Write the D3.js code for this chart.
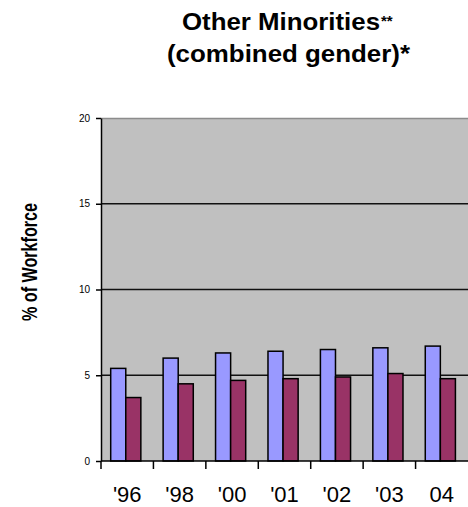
<!DOCTYPE html>
<html>
<head>
<meta charset="utf-8">
<script src="https://cdn.jsdelivr.net/npm/d3@7"></script>
<style>
  html, body { margin: 0; padding: 0; background: #fff; }
  svg { display: block; }
</style>
</head>
<body>
<svg width="468" height="507"></svg>
<script>
const years = ["'96", "'98", "'00", "'01", "'02", "'03", "04"];
const seriesA = [5.4, 6.0, 6.3, 6.4, 6.5, 6.6, 6.7];
const seriesB = [3.7, 4.5, 4.7, 4.8, 4.9, 5.1, 4.8];
const yTicks = [0, 5, 10, 15, 20];

const svg = d3.select('svg');
const margin = { left: 101, right: 0, top: 118, bottom: 45 };
const width = 468 - margin.left - margin.right;
const height = 507 - margin.top - margin.bottom - 1;
const font = 'Arial, "Liberation Sans", sans-serif';

const data = years.map((yr, i) => ({ yr, a: seriesA[i], b: seriesB[i] }));

const x = d3.scaleBand().domain(years).range([0, width]);
const bw = x.bandwidth();
const x1 = d3.scaleBand().domain(['a', 'b']).range([bw * 0.185, bw * 0.76]);
const y = d3.scaleLinear().domain([0, 20]).range([height, 0]);

const g = svg.append('g').attr('transform', `translate(${margin.left},${margin.top})`);

// plot area
g.append('rect')
  .attr('x', 0).attr('y', 0)
  .attr('width', width + 2).attr('height', height)
  .attr('fill', '#c0c0c0');
g.append('line')
  .attr('x1', 0).attr('x2', width + 2)
  .attr('y1', 0.5).attr('y2', 0.5)
  .attr('stroke', '#8c8c8c').attr('stroke-width', 1.5);

// gridlines
g.selectAll('.grid').data(yTicks.filter(d => d > 0 && d < 20)).enter()
  .append('line')
  .attr('x1', 0).attr('x2', width + 2)
  .attr('y1', d => y(d)).attr('y2', d => y(d))
  .attr('stroke', '#111').attr('stroke-width', 1.5);

// bars
const groups = g.selectAll('.grp').data(data).enter()
  .append('g').attr('transform', d => `translate(${x(d.yr)},0)`);

groups.append('rect')
  .attr('x', x1('a')).attr('width', x1.bandwidth())
  .attr('y', d => y(d.a)).attr('height', d => y(0) - y(d.a))
  .attr('fill', '#9999ff').attr('stroke', '#000').attr('stroke-width', 1.5);

groups.append('rect')
  .attr('x', x1('b')).attr('width', x1.bandwidth())
  .attr('y', d => y(d.b)).attr('height', d => y(0) - y(d.b))
  .attr('fill', '#993366').attr('stroke', '#000').attr('stroke-width', 1.5);

// axes
const yAxis = d3.axisLeft(y).tickValues(yTicks).tickSize(5).tickSizeOuter(0);
const yg = g.append('g').call(yAxis);
yg.select('.domain').attr('stroke', '#000').attr('stroke-width', 1.5);
yg.selectAll('.tick line').attr('stroke', '#000').attr('stroke-width', 1.5);
yg.selectAll('.tick text')
  .attr('x', -11)
  .style('font-family', font)
  .style('font-size', '10px')
  .attr('fill', '#000');

const xg = g.append('g').attr('transform', `translate(0,${height})`);
xg.append('line')
  .attr('x1', 0).attr('x2', width + 2)
  .attr('y1', 0).attr('y2', 0)
  .attr('stroke', '#000').attr('stroke-width', 1.5);
xg.selectAll('.xt').data(years).enter()
  .append('line')
  .attr('x1', d => x(d)).attr('x2', d => x(d))
  .attr('y1', 0).attr('y2', 8)
  .attr('stroke', '#000').attr('stroke-width', 1.5);
xg.selectAll('.xl').data(years).enter()
  .append('text')
  .attr('x', d => x(d) + bw / 2)
  .attr('y', 41)
  .attr('text-anchor', 'middle')
  .style('font-family', font)
  .style('font-size', '22px')
  .attr('fill', '#000')
  .text(d => d);

// titles
const title = svg.append('text')
  .attr('x', 182).attr('y', 30)
  .style('font-family', font)
  .style('font-weight', 'bold')
  .style('font-size', '23px');
title.append('tspan')
  .attr('textLength', 198).attr('lengthAdjust', 'spacingAndGlyphs')
  .text('Other Minorities');
title.append('tspan').attr('dx', 1).attr('dy', -4).style('font-size', '15px').text('**');

svg.append('text')
  .attr('x', 167).attr('y', 62)
  .attr('textLength', 243).attr('lengthAdjust', 'spacingAndGlyphs')
  .style('font-family', font)
  .style('font-weight', 'bold')
  .style('font-size', '23px')
  .text('(combined gender)*');

svg.append('text')
  .attr('transform', 'translate(37,262) rotate(-90)')
  .attr('text-anchor', 'middle')
  .style('font-family', font)
  .style('font-weight', 'bold')
  .style('font-size', '22px')
  .attr('textLength', 118).attr('lengthAdjust', 'spacingAndGlyphs')
  .text('% of Workforce');
</script>
</body>
</html>
